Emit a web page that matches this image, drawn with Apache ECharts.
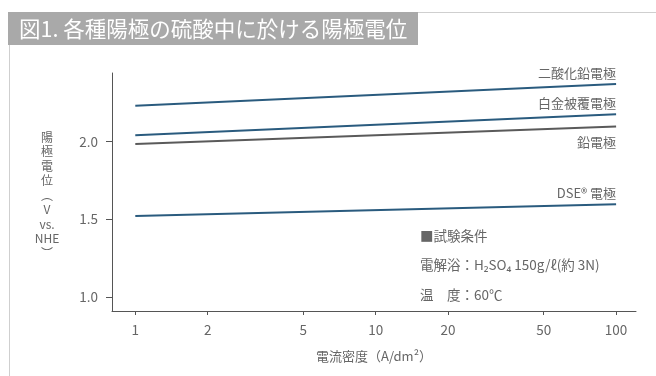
<!DOCTYPE html>
<html>
<head>
<meta charset="utf-8">
<script src="https://cdn.jsdelivr.net/npm/echarts@6/dist/echarts.min.js"></script>
<style>
  html, body { margin: 0; padding: 0; background: #fff; }
  #chart { width: 656px; height: 376px; }
</style>
</head>
<body>
<div id="chart"></div>
<script>
// Current density (A/dm²), log scale
const currentDensity = [1, 100];
// Anode potential (V vs. NHE) for each anode
const leadDioxide = [2.23, 2.37];
const platinumCoated = [2.04, 2.175];
const lead = [1.983, 2.096];
const dse = [1.52, 1.596];

const seriesNames = ['二酸化鉛電極', '白金被覆電極', '鉛電極', 'DSE® 電極'];
const xTickValues = [1, 2, 5, 10, 20, 50, 100];
const yTickValues = [1.0, 1.5, 2.0];

const titleText = '図1. 各種陽極の硫酸中に於ける陽極電位';
const xAxisName = '電流密度（A/dm²）';
const yAxisName = '陽\n極\n電\n位\n︵\nV\nvs.\nNHE\n︶';
const conditionLines = ['■試験条件', '電解浴：H₂SO₄ 150g/ℓ(約 3N)', '温　度：60℃'];

const FONT = '"Noto Sans CJK JP", "Noto Sans", sans-serif';
const BLUE = '#2a5b7e';
const GREY_LINE = '#5a5a5a';
const TEXT = '#666';

function pairs(ys) {
  return currentDensity.map((x, i) => [x, ys[i]]);
}

function makeSeries(name, ys, color, labelPos) {
  const pts = pairs(ys);
  return {
    name: name,
    type: 'line',
    symbol: 'circle',
    symbolSize: 1,
    showSymbol: true,
    itemStyle: { color: 'rgba(0,0,0,0)', borderWidth: 0 },
    lineStyle: { color: color, width: 2 },
    data: pts.map((p, i) => i === pts.length - 1 ? {
      value: p,
      label: {
        show: true,
        formatter: name,
        position: labelPos,
        align: 'right',
        distance: labelPos === 'top' ? 4 : 9,
        color: TEXT,
        fontSize: 13,
        fontFamily: FONT
      }
    } : { value: p })
  };
}

const chart = echarts.init(document.getElementById('chart'), null, { renderer: 'canvas' });

chart.setOption({
  animation: false,
  backgroundColor: '#fff',
  tooltip: { show: false },
  grid: { left: 112, right: 20, top: 73, bottom: 65 },
  xAxis: {
    type: 'log',
    logBase: 10,
    min: 0.8,
    max: 121,
    name: xAxisName,
    nameLocation: 'middle',
    nameGap: 39,
    nameTextStyle: { color: TEXT, fontSize: 13, fontFamily: FONT },
    axisLine: { lineStyle: { color: '#555', width: 1 } },
    axisTick: { show: true, length: 4, customValues: xTickValues, lineStyle: { color: '#555' } },
    axisLabel: { customValues: xTickValues, color: TEXT, fontSize: 13.5, fontFamily: FONT, margin: 12,
      formatter: v => String(Math.round(v)) },
    splitLine: { show: false },
    minorTick: { show: false }
  },
  yAxis: {
    type: 'value',
    min: 0.91,
    max: 2.44,
    axisLine: { show: true, lineStyle: { color: '#555', width: 1 } },
    axisTick: { show: true, length: 6, customValues: yTickValues, lineStyle: { color: '#555' } },
    axisLabel: { customValues: yTickValues, color: TEXT, fontSize: 13.5, fontFamily: FONT, margin: 14,
      formatter: v => v.toFixed(1) },
    splitLine: { show: false }
  },
  series: [
    makeSeries(seriesNames[0], leadDioxide, BLUE, 'top'),
    makeSeries(seriesNames[1], platinumCoated, BLUE, 'top'),
    makeSeries(seriesNames[2], lead, GREY_LINE, 'bottom'),
    makeSeries(seriesNames[3], dse, BLUE, 'top')
  ],
  graphic: [
    // frame: top rule and left rule
    { type: 'line', shape: { x1: 418, y1: 12.5, x2: 656, y2: 12.5 }, style: { stroke: '#cfcfcf', lineWidth: 1 }, silent: true },
    { type: 'line', shape: { x1: 9.5, y1: 45, x2: 9.5, y2: 376 }, style: { stroke: '#cfcfcf', lineWidth: 1 }, silent: true },
    // title band
    { type: 'rect', shape: { x: 8, y: 12, width: 410, height: 33 }, style: { fill: '#a9a9a9' }, silent: true },
    { type: 'text', x: 19, y: 29, style: { text: titleText, fill: '#fff', fontSize: 21.5, fontFamily: FONT, verticalAlign: 'middle' }, silent: true },
    // vertical axis name
    { type: 'text', x: 47, y: 130, style: { text: yAxisName, fill: TEXT, fontSize: 12, lineHeight: 14.5, fontFamily: FONT, align: 'center', verticalAlign: 'top' }, silent: true },
    // test conditions
    { type: 'text', x: 420, y: 236, style: { text: conditionLines[0], fill: TEXT, fontSize: 13.5, fontFamily: FONT, verticalAlign: 'middle' }, silent: true },
    { type: 'text', x: 420, y: 265, style: { text: conditionLines[1], fill: TEXT, fontSize: 13.5, fontFamily: FONT, verticalAlign: 'middle' }, silent: true },
    { type: 'text', x: 420, y: 295, style: { text: conditionLines[2], fill: TEXT, fontSize: 13.5, fontFamily: FONT, verticalAlign: 'middle' }, silent: true }
  ]
});
</script>
</body>
</html>
